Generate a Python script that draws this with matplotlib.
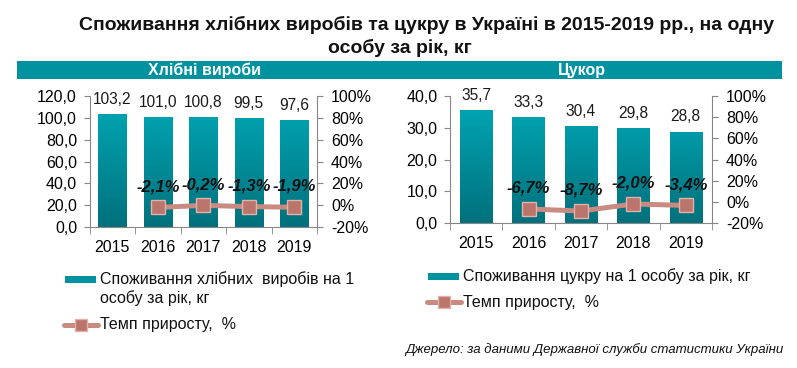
import numpy as np
import matplotlib
matplotlib.use("Agg")
import matplotlib.pyplot as plt
from matplotlib.patches import Rectangle
from matplotlib.lines import Line2D
from matplotlib.colors import LinearSegmentedColormap

plt.rcParams['font.family'] = ['Liberation Sans', 'DejaVu Sans']

# data
years = ['2015', '2016', '2017', '2018', '2019']
bread = [103.2, 101.0, 100.8, 99.5, 97.6]
bread_growth = [np.nan, -2.1, -0.2, -1.3, -1.9]
sugar = [35.7, 33.3, 30.4, 29.8, 28.8]
sugar_growth = [np.nan, -6.7, -8.7, -2.0, -3.4]

W, H = 797, 368
fig = plt.figure(figsize=(W / 100, H / 100), dpi=100)

GRAY = '#868686'
LINE_C = '#C98A81'
MARK_F = '#BA766D'
MARK_E = '#E4B0A8'
teal_cmap = LinearSegmentedColormap.from_list('teal', ['#00717C', '#00AAB8'])


def fx(x):
    return x / W


def fy(y):
    return 1 - y / H


def comma(v, fmt='{:.1f}'):
    return fmt.format(v).replace('.', ',')


def draw_panel(rect, values, growth, ymax, ystep):
    ax = fig.add_axes(rect)
    x = np.arange(len(years))
    bars = ax.bar(x, values, width=0.62, color='#0097A4', zorder=2)
    ax.set_xlim(-0.5, len(years) - 0.5)
    ax.set_ylim(0, ymax)

    # vertical gradient inside each bar
    grad = np.linspace(0, 1, 256).reshape(-1, 1)
    for b in bars:
        im = ax.imshow(grad, cmap=teal_cmap, origin='lower', aspect='auto',
                       extent=(b.get_x(), b.get_x() + b.get_width(), 0, ymax),
                       zorder=2.5)
        im.set_clip_path(b)

    for xi, v in zip(x, values):
        ax.annotate(comma(v), (xi, v), xytext=(0, 10.5), textcoords='offset points',
                    ha='center', va='center', fontsize=11.2, color='#1a1a1a')

    ax.set_yticks(np.arange(0, ymax + 0.01, ystep))
    ax.set_yticklabels([comma(t) for t in np.arange(0, ymax + 0.01, ystep)])
    ax.set_xticks(x)
    ax.set_xticklabels(years)
    ax.set_xticks(np.arange(-0.5, len(years), 1), minor=True)
    ax.tick_params(axis='x', which='major', length=0, pad=9, labelsize=11.5)
    ax.tick_params(axis='x', which='minor', length=5, color=GRAY, direction='out')
    ax.tick_params(axis='y', length=4, color=GRAY, labelsize=11.5, pad=5)
    for s in ['top', 'right']:
        ax.spines[s].set_visible(False)
    for s in ['left', 'bottom']:
        ax.spines[s].set_color(GRAY)
    ax.set_facecolor('none')

    ax2 = ax.twinx()
    ax2.set_ylim(-20, 100)
    ax2.set_yticks(np.arange(-20, 101, 20))
    ax2.set_yticklabels(['{:d}%'.format(t) for t in np.arange(-20, 101, 20)])
    ax2.tick_params(axis='y', length=4, color=GRAY, labelsize=11.5, pad=6)
    for s in ['top', 'left', 'bottom']:
        ax2.spines[s].set_visible(False)
    ax2.spines['right'].set_color(GRAY)
    ax2.plot(x, growth, color=LINE_C, lw=3.6, marker='s', ms=10,
             mfc=MARK_F, mec=MARK_E, mew=1, zorder=3)
    for xi, g in zip(x, growth):
        if np.isnan(g):
            continue
        ax2.annotate(comma(g) + '%', (xi, g), xytext=(0, 15), textcoords='offset points',
                     ha='center', va='center', fontsize=12, fontweight='bold',
                     fontstyle='italic', color='#111111')
    return ax


draw_panel([fx(89.5), fy(227), fx(317) - fx(89.5), fy(96) - fy(227)],
           bread, bread_growth, 120, 20)
draw_panel([fx(450), fy(223), fx(712) - fx(450), fy(96) - fy(223)],
           sugar, sugar_growth, 40, 10)

# title
fig.text(fx(427), fy(25), 'Споживання хлібних виробів та цукру в Україні в 2015-2019 рр., на одну',
         ha='center', va='center', fontsize=14, fontweight='bold', color='#111111')
fig.text(fx(400), fy(48), 'особу за рік, кг',
         ha='center', va='center', fontsize=14, fontweight='bold', color='#111111')

# band
fig.add_artist(Rectangle((fx(17), fy(79)), fx(782) - fx(17), fy(61) - fy(79),
                         transform=fig.transFigure, color='#00939F', lw=0))
fig.text(fx(205), fy(70), 'Хлібні вироби', ha='center', va='center',
         fontsize=11.5, fontweight='bold', color='white')
fig.text(fx(582), fy(70), 'Цукор', ha='center', va='center',
         fontsize=11.5, fontweight='bold', color='white')


# legends
def legend_patch(x0, x1, y, label):
    fig.add_artist(Rectangle((fx(x0), fy(y + 3.5)), fx(x1) - fx(x0), fy(y - 3.5) - fy(y + 3.5),
                             transform=fig.transFigure, color='#00939F', lw=0))
    fig.text(fx(x1 + 4), fy(y), label, ha='left', va='center', fontsize=11.5,
             color='#111111', linespacing=1.25)


def legend_line(x0, x1, y, label):
    fig.add_artist(Line2D([fx(x0), fx(x1)], [fy(y), fy(y)], transform=fig.transFigure,
                          color=LINE_C, lw=3.6, solid_capstyle='round'))
    fig.add_artist(Line2D([fx((x0 + x1) / 2)], [fy(y)], transform=fig.transFigure,
                          marker='s', ms=8, mfc=MARK_F, mec=MARK_E, mew=1))
    fig.text(fx(x1 + 2), fy(y), label, ha='left', va='center', fontsize=11.5, color='#111111')


legend_patch(65, 96, 279, 'Споживання хлібних  виробів на 1')
fig.text(fx(100), fy(298), 'особу за рік, кг', ha='left', va='center', fontsize=11.5,
         color='#111111')
legend_line(64, 98, 325, 'Темп приросту,  %')
legend_patch(428, 459, 276, 'Споживання цукру на 1 особу за рік, кг')
legend_line(427, 461, 302, 'Темп приросту,  %')

fig.text(fx(405), fy(350), 'Джерело: за даними Державної служби статистики України',
         ha='left', va='center', fontsize=9.5, fontstyle='italic', color='#111111')

fig.savefig('out.png', dpi=100)
